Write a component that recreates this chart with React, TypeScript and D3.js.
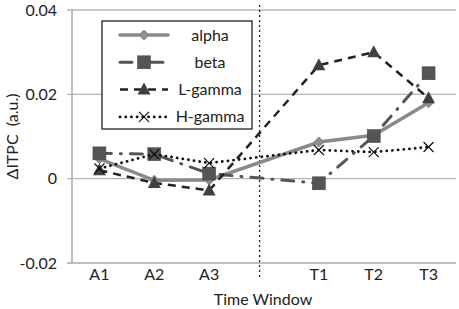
import React from "react";
import * as d3 from "d3";

const categories = ["A1", "A2", "A3", "", "T1", "T2", "T3"];
const alpha = [0.0047, -0.0004, -0.0003, null, 0.0087, 0.0103, 0.018];
const beta = [0.006, 0.0058, 0.0012, null, -0.0011, 0.0101, 0.025];
const lGamma = [0.002, -0.001, -0.0028, null, 0.0269, 0.030, 0.0191];
const hGamma = [0.0024, 0.0058, 0.0037, null, 0.0068, 0.0063, 0.0075];
const yTicks = [-0.02, 0, 0.02, 0.04];
const yTickLabels = ["-0.02", "0", "0.02", "0.04"];
const seriesNames = ["alpha", "beta", "L-gamma", "H-gamma"];

const W = 459, H = 309;
const FONT = "Lato, 'Open Sans', sans-serif";

type Style = { color: string; width: number; dash: string; cap: string; marker: string; mColor: string };
const styles: Style[] = [
  { color: "#8a8a8a", width: 3.5, dash: "none", cap: "round", marker: "diamond", mColor: "#8c8c8c" },
  { color: "#555555", width: 3, dash: "12 9 1 9", cap: "round", marker: "square", mColor: "#555555" },
  { color: "#222222", width: 2.5, dash: "8 6", cap: "butt", marker: "triangle", mColor: "#404040" },
  { color: "#111111", width: 2.8, dash: "0.1 5.6", cap: "round", marker: "x", mColor: "#111111" },
];

function Marker({ kind, x, y, color }: { kind: string; x: number; y: number; color: string }) {
  if (kind === "diamond") {
    const s = 5.5;
    return <path d={`M${x},${y - s}L${x + s},${y}L${x},${y + s}L${x - s},${y}Z`} fill={color} />;
  }
  if (kind === "square") {
    const s = 6.5;
    return <rect x={x - s} y={y - s} width={2 * s} height={2 * s} fill={color} stroke="#444" strokeWidth={0.5} />;
  }
  if (kind === "triangle") {
    return <path d={`M${x},${y - 7}L${x + 6.5},${y + 5}L${x - 6.5},${y + 5}Z`} fill={color} />;
  }
  const s = 5;
  return (
    <path d={`M${x - s},${y - s}L${x + s},${y + s}M${x + s},${y - s}L${x - s},${y + s}`} stroke={color} strokeWidth={1.2} fill="none" />
  );
}

export default function App() {
  const left = 72, right = 456, top = 10, bottom = 263;
  const keys = categories.map((c, i) => c || "gap" + i);
  const x = d3.scaleBand<string>().domain(keys).range([left, right]);
  const cx = (i: number) => (x(keys[i]) as number) + x.bandwidth() / 2;
  const y = d3.scaleLinear().domain([-0.02, 0.04]).range([bottom, top]);
  const all = [alpha, beta, lGamma, hGamma];

  const line = d3
    .line<[number, number | null]>()
    .x((d) => cx(d[0]))
    .y((d) => y(d[1] as number));

  const sepX = (x(keys[3]) as number) + x.bandwidth() * 0.42;

  return (
    <svg width={W} height={H} style={{ position: "absolute", left: 0, top: 0, background: "#fff" }} fontFamily={FONT}>
      {yTicks.slice(1).map((t) => (
        <line key={t} x1={left - 5} x2={right} y1={y(t)} y2={y(t)} stroke="#b4b4b4" strokeWidth={1.3} />
      ))}
      <line x1={left - 5} x2={right} y1={y(-0.02)} y2={y(-0.02)} stroke="#a8a8a8" strokeWidth={1.5} />
      <line x1={left} x2={left} y1={top} y2={bottom} stroke="#a8a8a8" strokeWidth={1.5} />
      {yTicks.map((t, i) => (
        <text key={t} x={57} y={y(t) + 5.5} textAnchor="end" fontSize={16} fill="#222">
          {yTickLabels[i]}
        </text>
      ))}
      {categories.map((c, i) => (
        <text key={i} x={cx(i)} y={280} textAnchor="middle" fontSize={16} fill="#222">
          {c}
        </text>
      ))}
      <text x={263} y={305} textAnchor="middle" fontSize={16} fill="#222">
        Time Window
      </text>
      <text transform={`translate(18,${(top + bottom) / 2}) rotate(-90)`} textAnchor="middle" fontSize={16} fill="#222" style={{ whiteSpace: "pre" }}>
        {"ΔITPC  (a.u.)"}
      </text>
      <line x1={sepX} x2={sepX} y1={5} y2={277} stroke="#222" strokeWidth={1.3} strokeDasharray="2 3" />
      {all.map((data, si) => {
        const st = styles[si];
        const pts = data.map((v, i) => [i, v] as [number, number | null]).filter((d) => d[1] !== null);
        return (
          <g key={si}>
            <path d={line(pts) || ""} fill="none" stroke={st.color} strokeWidth={st.width} strokeDasharray={st.dash} strokeLinecap={st.cap as any} />
            {pts.map((p) => (
              <Marker key={p[0]} kind={st.marker} x={cx(p[0])} y={y(p[1] as number)} color={st.mColor} />
            ))}
          </g>
        );
      })}
      <rect x={102} y={21} width={150} height={108} fill="#fff" stroke="#111" strokeWidth={1.2} />
      {seriesNames.map((n, i) => {
        const st = styles[i];
        const ly = 35 + i * 27.3;
        return (
          <g key={n}>
            <line x1={120} x2={168} y1={ly} y2={ly} stroke={st.color} strokeWidth={st.width} strokeDasharray={st.dash} strokeLinecap={st.cap as any} />
            <Marker kind={st.marker} x={144} y={ly} color={st.mColor} />
            <text x={210} y={ly + 5.5} textAnchor="middle" fontSize={16} fill="#222">
              {n}
            </text>
          </g>
        );
      })}
    </svg>
  );
}
